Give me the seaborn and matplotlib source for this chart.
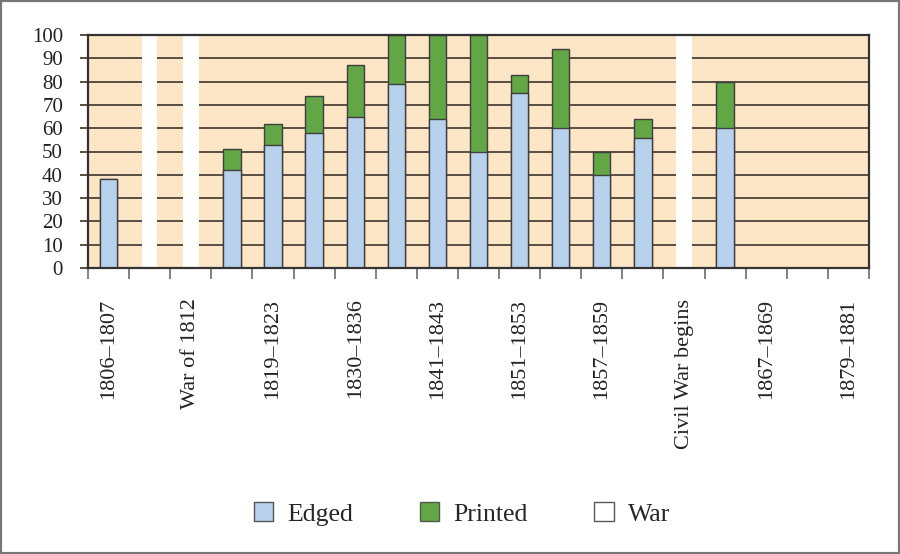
import matplotlib
matplotlib.use("Agg")
import matplotlib.pyplot as plt
import matplotlib.patches as mpatches
import seaborn as sns
import numpy as np

# ---- data ----
positions = list(range(19))
edged   = [38, 0, 0, 42, 53, 58, 65, 79, 64, 50, 75, 60, 40, 56, 0, 60, 0, 0, 0]
printed = [0, 0, 0, 9, 9, 16, 22, 21, 36, 50, 8, 34, 10, 8, 0, 20, 0, 0, 0]
war     = [0, 100, 100, 0, 0, 0, 0, 0, 0, 0, 0, 0, 0, 0, 100, 0, 0, 0, 0]
label_positions = [0, 2, 4, 6, 8, 10, 12, 14, 16, 18]
tick_labels = ["1806–1807", "War of 1812", "1819–1823", "1830–1836", "1841–1843",
               "1851–1853", "1857–1859", "Civil War begins", "1867–1869", "1879–1881"]
y_ticks = [0, 10, 20, 30, 40, 50, 60, 70, 80, 90, 100]

C_EDGED = "#B8D1EC"
C_PRINT = "#62A646"
C_BG = "#FCE6C6"
C_EDGE = "#3f3f3f"
C_GRID = "#4a4236"

sns.set_theme(style="white")
plt.rcParams['font.family'] = ['Liberation Serif', 'DejaVu Serif']

fig = plt.figure(figsize=(9, 5.54), dpi=100)
ax = fig.add_axes([88/900, 1 - 268/554, (869-88)/900, (268-35)/554])
ax.set_facecolor(C_BG)

totals = [e + p for e, p in zip(edged, printed)]
sns.barplot(x=positions, y=totals, color=C_PRINT, width=0.42, edgecolor=C_EDGE,
            linewidth=1.0, saturation=1, ax=ax, order=positions)
sns.barplot(x=positions, y=edged, color=C_EDGED, width=0.42, edgecolor=C_EDGE,
            linewidth=1.0, saturation=1, ax=ax, order=positions)
sns.barplot(x=positions, y=war, color="white", width=0.38, edgecolor="white",
            linewidth=0, saturation=1, ax=ax, order=positions)

for p in ax.patches:
    if p.get_height() == 0:
        p.set_visible(False)

ax.set_xlim(-0.5, 18.5)
ax.set_ylim(0, 100)
ax.set_axisbelow(True)
ax.yaxis.grid(True, color=C_GRID, linewidth=1.3)
ax.xaxis.grid(False)

ax.set_yticks(y_ticks)
ax.set_yticklabels([str(v) for v in y_ticks], fontsize=15, color="#222222")
ax.tick_params(axis="y", length=6, width=1.3, color=C_GRID, pad=12, left=True)

ax.set_xticks([i - 0.5 for i in range(20)])
ax.set_xticklabels([])
ax.tick_params(axis="x", which="major", length=8, width=1.3, color="#777777", bottom=True)
ax.set_xticks(label_positions, minor=True)
ax.set_xticklabels(tick_labels, minor=True, rotation=90, fontsize=16, color="#222222",
                   va="top", ha="center")
ax.tick_params(axis="x", which="minor", length=0, pad=22)

for s in ax.spines.values():
    s.set_visible(True)
    s.set_color("#333333")
    s.set_linewidth(1.6)
ax.set_xlabel("")
ax.set_ylabel("")

handles = [
    mpatches.Patch(facecolor=C_EDGED, edgecolor="#555555", label="Edged"),
    mpatches.Patch(facecolor=C_PRINT, edgecolor="#555555", label="Printed"),
    mpatches.Patch(facecolor="white", edgecolor="#555555", label="War"),
]
fig.legend(handles=handles, loc="center", bbox_to_anchor=(462/900, 1 - 514/554),
           ncol=3, frameon=False, fontsize=18.5, handlelength=0.75, handleheight=0.75,
           columnspacing=2.6, handletextpad=0.55)

fig.patches.append(mpatches.Rectangle((0, 0), 1, 1, transform=fig.transFigure,
                                      fill=False, edgecolor="#777777", linewidth=3))

fig.savefig("out.png", dpi=100)
